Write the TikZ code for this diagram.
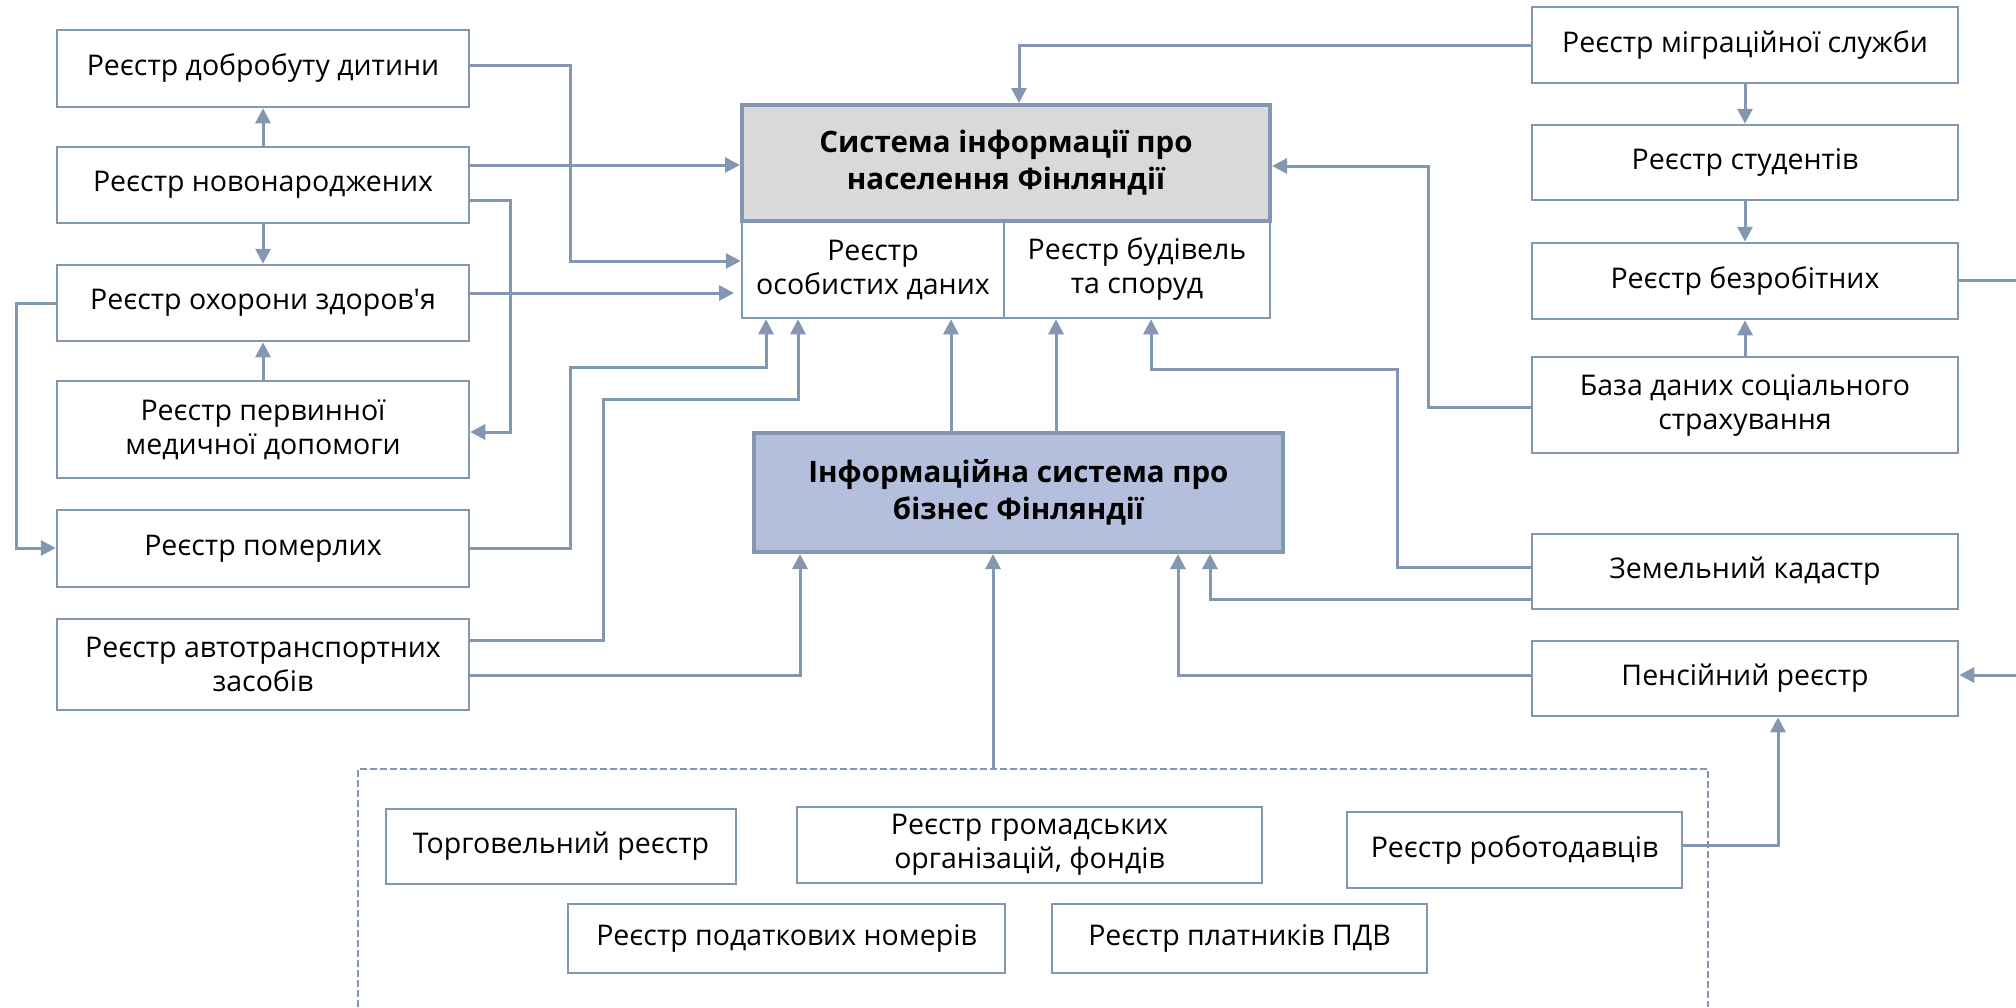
\documentclass[tikz,border=0pt]{standalone}
\usepackage{fontspec}
\setmainfont{Open Sans}
\usetikzlibrary{arrows.meta}

\definecolor{linegray}{HTML}{8497B0}
\definecolor{popfill}{HTML}{D9D9D9}
\definecolor{bizfill}{HTML}{B4BFDD}

\begin{document}
\begin{tikzpicture}
        [x=1pt, y=-1pt,
        box/.style={rectangle, draw=linegray, line width=2.5pt, align=center, inner sep=0pt, font=\fontsize{28.5}{34}\selectfont},
        leftbox/.style={box, minimum width=412},
        rightbox/.style={box, minimum width=426},
        mainbox/.style={box, line width=4pt, font=\fontsize{29.5}{37}\selectfont\bfseries},
        link/.style={linegray, line width=3pt},
        arrow/.style={link, -{Triangle[length=15pt, width=15pt]}},
        group/.style={linegray, line width=2pt, dash pattern=on 7pt off 3pt}]

        \useasboundingbox (0,0) rectangle (2016,1007);

        % left column
        \node[leftbox, minimum height=77] (dobro) at (263,68.5) {Реєстр добробуту дитини};
        \node[leftbox, minimum height=76] (novo) at (263,185) {Реєстр новонароджених};
        \node[leftbox, minimum height=76] (health) at (263,303) {Реєстр охорони здоров\textquotesingle я};
        \node[leftbox, minimum height=97] (primary) at (263,429.5) {Реєстр первинної\\медичної допомоги};
        \node[leftbox, minimum height=77] (dead) at (263,548.5) {Реєстр померлих};
        \node[leftbox, minimum height=91] (vehicle) at (263,664.5) {Реєстр автотранспортних\\засобів};

        % centre
        \node[box, minimum width=262, minimum height=97] (persdata) at (873,269.5) {Реєстр\\особистих даних};
        \node[box, minimum width=266, minimum height=97] (building) at (1137,269.5) {Реєстр будівель\\та споруд};
        \node[mainbox, fill=popfill, minimum width=528, minimum height=116] (popsys) at (1006,163) {Система інформації про\\населення Фінляндії};
        \node[mainbox, fill=bizfill, minimum width=529, minimum height=119] (bizsys) at (1018.5,492.5) {Інформаційна система про\\бізнес Фінляндії};

        % right column
        \node[rightbox, minimum height=76] (migr) at (1745,45) {Реєстр міграційної служби};
        \node[rightbox, minimum height=75] (student) at (1745,162.5) {Реєстр студентів};
        \node[rightbox, minimum height=76] (unemp) at (1745,281) {Реєстр безробітних};
        \node[rightbox, minimum height=96] (social) at (1745,405) {База даних соціального\\страхування};
        \node[rightbox, minimum height=75] (land) at (1745,571.5) {Земельний кадастр};
        \node[rightbox, minimum height=75] (pension) at (1745,678.5) {Пенсійний реєстр};

        % business registers group
        \draw[group] (358,1007) |- (1708,769) -- (1708,1007);
        \coordinate (grouptop) at (993,769);
        \node[box, minimum width=350, minimum height=75] (trade) at (561,846.5) {Торговельний реєстр};
        \node[box, minimum width=465, minimum height=76] (ngo) at (1029.5,845) {Реєстр громадських\\організацій, фондів};
        \node[box, minimum width=335, minimum height=76] (employer) at (1514.5,850) {Реєстр роботодавців};
        \node[box, minimum width=437, minimum height=69] (taxid) at (786.5,938.5) {Реєстр податкових номерів};
        \node[box, minimum width=375, minimum height=69] (vat) at (1239.5,938.5) {Реєстр платників ПДВ};

        % off-picture ends on the right
        \coordinate (edgeA) at (2016,280);
        \coordinate (edgeB) at (2016,675);

        % left side links
        \draw[arrow] (novo) -- (dobro);
        \draw[arrow] (novo) -- (health);
        \draw[arrow] (primary) -- (health);
        \draw[arrow] (dobro.east |- 0,65) -| (570,261) -- (persdata.west |- 0,261);
        \draw[arrow] (novo.east |- 0,165) -- (popsys.west |- 0,165);
        \draw[arrow] (novo.east |- 0,200) -| (510,432) -- (primary.east |- 0,432);
        \draw[arrow] (health.east |- 0,293) -- (734,293);
        \draw[arrow] (health.west) -| (16,548) -- (dead.west |- 0,548);
        \draw[arrow] (dead.east) -| (570,367) -| (persdata.south -| 766,0);
        \draw[arrow] (vehicle.east |- 0,640) -| (603,399) -| (persdata.south -| 798,0);
        \draw[arrow] (vehicle.east |- 0,675) -| (bizsys.south -| 800,0);

        % centre links
        \draw[arrow] (bizsys.north -| 951,0) -- (persdata.south -| 951,0);
        \draw[arrow] (bizsys.north -| 1056,0) -- (building.south -| 1056,0);
        \draw[arrow] (grouptop) -- (bizsys.south -| grouptop);

        % right side links
        \draw[arrow] (migr.west) -| (popsys.north -| 1019,0);
        \draw[arrow] (migr) -- (student);
        \draw[arrow] (student) -- (unemp);
        \draw[arrow] (social) -- (unemp);
        \draw[arrow] (social.west |- 0,407) -| (1428,166) -- (popsys.east |- 0,166);
        \draw[arrow] (land.west |- 0,567) -| (1397,369) -| (building.south -| 1151,0);
        \draw[arrow] (land.west |- 0,599) -| (bizsys.south -| 1210,0);
        \draw[arrow] (pension.west |- 0,675) -| (bizsys.south -| 1178,0);
        \draw[arrow] (employer.east |- 0,845) -| (pension.south -| 1778,0);
        \draw[link] (unemp.east |- edgeA) -- (edgeA);
        \draw[arrow] (edgeB) -- (pension.east |- edgeB);
    \end{tikzpicture}
\end{document}
